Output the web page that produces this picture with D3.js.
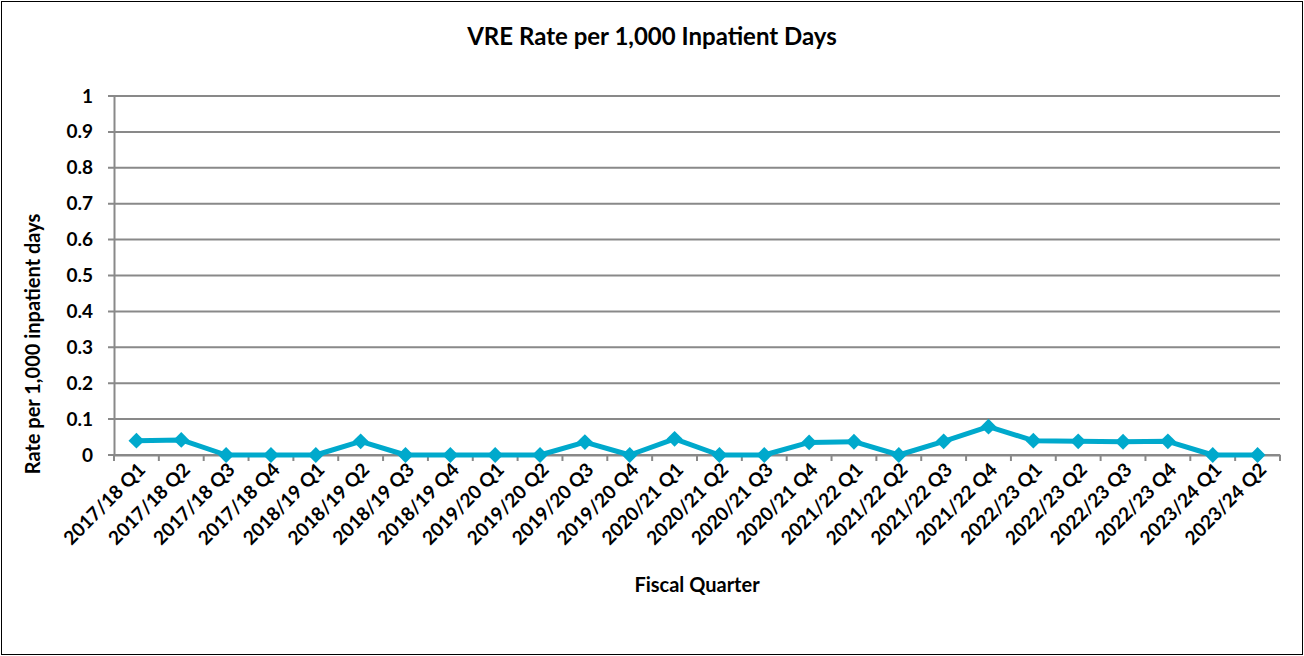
<!DOCTYPE html>
<html>
<head>
<meta charset="utf-8">
<script src="https://cdn.jsdelivr.net/npm/d3@7"></script>
<style>
  body { margin: 0; background: #fff; }
  text { font-family: Lato, "Open Sans", sans-serif; font-weight: bold; fill: #000; }
</style>
</head>
<body>
<div id="chart"></div>
<script>
// quarters and VRE rates
var quarters = ["2017/18 Q1", "2017/18 Q2", "2017/18 Q3", "2017/18 Q4",
  "2018/19 Q1", "2018/19 Q2", "2018/19 Q3", "2018/19 Q4",
  "2019/20 Q1", "2019/20 Q2", "2019/20 Q3", "2019/20 Q4",
  "2020/21 Q1", "2020/21 Q2", "2020/21 Q3", "2020/21 Q4",
  "2021/22 Q1", "2021/22 Q2", "2021/22 Q3", "2021/22 Q4",
  "2022/23 Q1", "2022/23 Q2", "2022/23 Q3", "2022/23 Q4",
  "2023/24 Q1", "2023/24 Q2"];
var rates = [0.040, 0.042, 0, 0, 0, 0.038, 0, 0, 0, 0, 0.036, 0,
  0.045, 0, 0, 0.035, 0.037, 0, 0.038, 0.079, 0.040, 0.038, 0.037, 0.038, 0, 0];
var yTicks = [0, 0.1, 0.2, 0.3, 0.4, 0.5, 0.6, 0.7, 0.8, 0.9, 1];

var svgWidth = 1304;
var svgHeight = 656;
var margin = { top: 96, right: 24, bottom: 201, left: 114 };
var width = svgWidth - margin.left - margin.right;
var height = svgHeight - margin.top - margin.bottom;

var svg = d3.select("#chart")
  .append("svg")
  .attr("width", svgWidth)
  .attr("height", svgHeight);

// outer frame
svg.append("rect")
  .attr("x", 1.5).attr("y", 1.5)
  .attr("width", svgWidth - 3).attr("height", svgHeight - 3)
  .attr("fill", "none")
  .attr("stroke", "#000")
  .attr("stroke-width", 1);

svg.append("text")
  .attr("x", 652).attr("y", 45)
  .attr("text-anchor", "middle")
  .style("font-size", "24px")
  .text("VRE Rate per 1,000 Inpatient Days");

var chartGroup = svg.append("g")
  .attr("transform", `translate(${margin.left}, ${margin.top})`);

var xScale = d3.scaleBand()
  .domain(quarters)
  .range([0, width]);

var yScale = d3.scaleLinear()
  .domain([0, 1])
  .range([height, 0]);

// gridlines
chartGroup.append("g")
  .selectAll("line")
  .data(yTicks)
  .enter()
  .append("line")
  .attr("x1", -6)
  .attr("x2", width)
  .attr("y1", d => yScale(d))
  .attr("y2", d => yScale(d))
  .attr("stroke", "#898989")
  .attr("stroke-width", 2);

// y axis
var leftAxis = d3.axisLeft(yScale)
  .tickValues(yTicks)
  .tickFormat(d => d3.format("~g")(d))
  .tickSize(0)
  .tickPadding(21);
var yAxis = chartGroup.append("g").call(leftAxis);
yAxis.select(".domain").attr("stroke", "#898989").attr("stroke-width", 2);
yAxis.selectAll("text").style("font-size", "19px");

// x axis
var bottomAxis = d3.axisBottom(xScale).tickSize(0).tickFormat("");
var xAxis = chartGroup.append("g")
  .attr("transform", `translate(0, ${height})`)
  .call(bottomAxis);
xAxis.select(".domain").attr("stroke", "#898989").attr("stroke-width", 2);

// category boundary tick marks
var bounds = quarters.map(q => xScale(q)).concat([width]);
xAxis.selectAll(".bound")
  .data(bounds)
  .enter()
  .append("line")
  .attr("x1", d => d).attr("x2", d => d)
  .attr("y1", 0).attr("y2", 6)
  .attr("stroke", "#898989")
  .attr("stroke-width", 2);

xAxis.selectAll(".lbl")
  .data(quarters)
  .enter()
  .append("text")
  .attr("text-anchor", "end")
  .attr("transform", d => `translate(${xScale(d) + xScale.bandwidth() / 2 + 10}, 16) rotate(-45)`)
  .style("font-size", "19px")
  .text(d => d);

// line + markers
var cx = (d, i) => xScale(quarters[i]) + xScale.bandwidth() / 2;
var line = d3.line()
  .x(cx)
  .y(d => yScale(d));

chartGroup.append("path")
  .datum(rates)
  .attr("fill", "none")
  .attr("stroke", "#00A9CC")
  .attr("stroke-width", 5)
  .attr("stroke-linejoin", "round")
  .attr("d", line);

chartGroup.selectAll(".pt")
  .data(rates)
  .enter()
  .append("path")
  .attr("d", d3.symbol().type(d3.symbolDiamond2).size(160))
  .attr("transform", (d, i) => `translate(${cx(d, i)}, ${yScale(d)})`)
  .attr("fill", "#00A9CC");

// axis titles
svg.append("text")
  .attr("transform", "translate(40, 344) rotate(-90)")
  .attr("text-anchor", "middle")
  .style("font-size", "20px")
  .text("Rate per 1,000 inpatient days");

svg.append("text")
  .attr("x", 697).attr("y", 592)
  .attr("text-anchor", "middle")
  .style("font-size", "20px")
  .text("Fiscal Quarter");
</script>
</body>
</html>
